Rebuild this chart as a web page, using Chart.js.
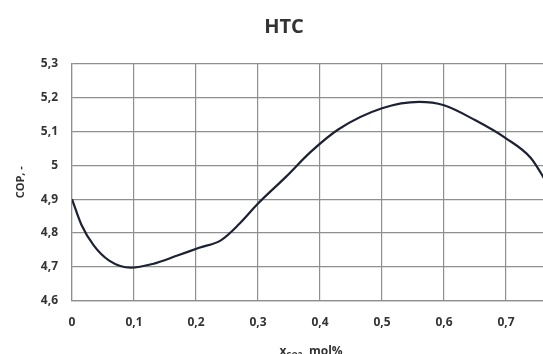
<!DOCTYPE html>
<html>
<head>
<meta charset="utf-8">
<script src="https://cdn.jsdelivr.net/npm/chart.js@4/dist/chart.umd.min.js"></script>
<style>
  html, body { margin: 0; padding: 0; background: #fff; overflow: hidden; }
  #wrap { width: 543px; height: 354px; overflow: hidden; }
</style>
</head>
<body>
<div id="wrap"><canvas id="copChart" width="576" height="366"></canvas></div>
<script>
// datos
const xValues = [0, 0.015, 0.035, 0.06, 0.095, 0.13, 0.17, 0.205, 0.24, 0.27, 0.30, 0.345, 0.385, 0.43, 0.50, 0.56, 0.60, 0.65, 0.70, 0.74, 0.76, 0.78];
const copValues = [4.90, 4.825, 4.763, 4.718, 4.697, 4.708, 4.733, 4.756, 4.778, 4.827, 4.887, 4.966, 5.040, 5.107, 5.169, 5.188, 5.178, 5.134, 5.080, 5.022, 4.966, 4.90];
const xTicks = [0, 0.1, 0.2, 0.3, 0.4, 0.5, 0.6, 0.7, 0.8];
const yTicks = [4.6, 4.7, 4.8, 4.9, 5.0, 5.1, 5.2, 5.3];

const fmt = v => String(Number(v.toFixed(1))).replace('.', ',');
const gridColor = '#8f8f8f';
const textColor = '#333333';

// titulo del eje x con subindice
const xTitlePlugin = {
    id: 'xTitle',
    afterDraw(chart) {
        const ctx = chart.ctx;
        const area = chart.chartArea;
        const y = 352;
        const main = 'bold 12px "Open Sans"';
        const sub = 'bold 8px "Open Sans"';
        ctx.save();
        ctx.fillStyle = textColor;
        ctx.textBaseline = 'middle';
        ctx.font = main;
        const wx = ctx.measureText('x').width;
        const wRest = ctx.measureText(', mol%').width;
        ctx.font = sub;
        const wSub = ctx.measureText('CO2').width;
        let x = (area.left + area.right) / 2 - 9 - (wx + wSub + wRest) / 2;
        ctx.font = main;
        ctx.fillText('x', x, y);
        x += wx;
        ctx.font = sub;
        ctx.fillText('CO2', x, y + 4);
        x += wSub;
        ctx.font = main;
        ctx.fillText(', mol%', x, y);
        ctx.restore();
    }
};

const ctx = document.getElementById('copChart').getContext('2d');
new Chart(ctx, {
    type: 'scatter',
    data: {
        datasets: [{
            data: xValues.map((x, i) => ({ x: x, y: copValues[i] })),
            showLine: true,
            borderColor: '#1c2133',
            borderWidth: 2.2,
            pointRadius: 0,
            cubicInterpolationMode: 'monotone',
            fill: false
        }]
    },
    options: {
        responsive: false,
        animation: false,
        layout: { padding: { left: 0, right: 8, top: 0, bottom: 0 } },
        plugins: {
            legend: { display: false },
            tooltip: { enabled: false },
            title: {
                display: true,
                text: 'HTC',
                color: textColor,
                font: { family: 'Open Sans', size: 20, weight: 'bold' },
                padding: { top: 15, bottom: 25 }
            }
        },
        scales: {
            x: {
                type: 'linear',
                min: 0,
                max: 0.8,
                afterBuildTicks: s => { s.ticks = xTicks.map(v => ({ value: v })); },
                afterFit: s => { s.height = 65.5; s.paddingRight = 0; s.paddingLeft = 0; },
                grid: { color: gridColor, lineWidth: 1.2, drawTicks: false },
                border: { color: gridColor, width: 1.2 },
                ticks: {
                    padding: 15,
                    color: textColor,
                    font: { family: 'Open Sans', size: 12, weight: 'bold' },
                    // la etiqueta 0,8 queda fuera de la imagen recortada
                    callback: v => (v >= 0.8 ? '' : fmt(v))
                }
            },
            y: {
                min: 4.6,
                max: 5.3,
                afterBuildTicks: s => { s.ticks = yTicks.map(v => ({ value: v })); },
                afterFit: s => { s.width = 72; },
                grid: { color: gridColor, lineWidth: 1.2, drawTicks: false },
                border: { color: gridColor, width: 1.2 },
                ticks: {
                    padding: 14,
                    color: textColor,
                    font: { family: 'Open Sans', size: 12, weight: 'bold' },
                    callback: v => fmt(v)
                },
                title: {
                    display: true,
                    text: 'COP, -',
                    color: textColor,
                    font: { family: 'Open Sans', size: 11, weight: 'bold' },
                    padding: { top: 14, bottom: 0 }
                }
            }
        }
    },
    plugins: [xTitlePlugin]
});
</script>
</body>
</html>
